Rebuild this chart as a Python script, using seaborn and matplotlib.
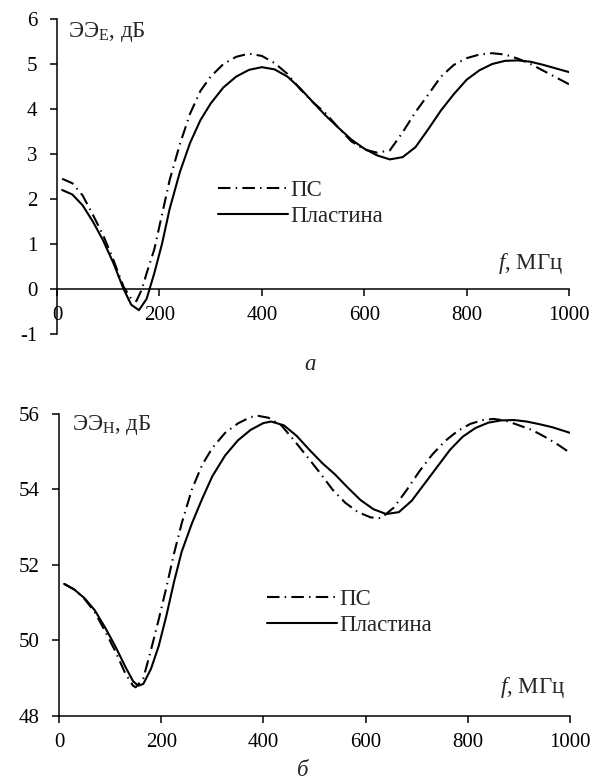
import numpy as np
import pandas as pd
import matplotlib
matplotlib.use("Agg")
import matplotlib.pyplot as plt
import seaborn as sns

# Electric-field shielding efficiency (top panel), dB
freq_e = [10, 30, 50, 70, 90, 110, 130, 145, 160, 175, 190, 205, 220, 240, 260, 280,
          300, 325, 350, 375, 400, 425, 450, 475, 500, 525, 550, 575, 600, 625, 650,
          675, 700, 725, 750, 775, 800, 825, 850, 875, 900, 925, 950, 975, 1000]
se_e_plate = [2.20, 2.10, 1.86, 1.50, 1.08, 0.58, 0.00, -0.35, -0.47, -0.22, 0.35, 1.00,
              1.78, 2.60, 3.25, 3.75, 4.12, 4.48, 4.72, 4.87, 4.93, 4.88, 4.72, 4.46,
              4.15, 3.85, 3.58, 3.32, 3.12, 2.97, 2.88, 2.93, 3.15, 3.55, 3.97, 4.33,
              4.65, 4.86, 5.00, 5.07, 5.08, 5.05, 4.98, 4.90, 4.82]
freq_e_ps = [10, 30, 50, 70, 90, 110, 130, 145, 155, 166, 175, 190, 205, 220, 240, 260,
             280, 300, 325, 350, 375, 400, 425, 450, 475, 500, 525, 550, 575, 600, 625,
             650, 675, 700, 725, 750, 775, 800, 825, 850, 875, 900, 925, 950, 975, 1000]
se_e_ps = [2.45, 2.35, 2.08, 1.65, 1.20, 0.65, 0.05, -0.22, -0.27, 0.00, 0.35, 0.88,
           1.65, 2.42, 3.22, 3.90, 4.40, 4.72, 5.00, 5.16, 5.23, 5.18, 5.02, 4.78, 4.44,
           4.15, 3.90, 3.58, 3.28, 3.10, 3.03, 3.08, 3.48, 3.93, 4.32, 4.72, 4.98, 5.13,
           5.21, 5.24, 5.21, 5.12, 5.00, 4.85, 4.70, 4.55]

# Magnetic-field shielding efficiency (bottom panel), dB
freq_h_plate = [10, 30, 50, 70, 90, 110, 130, 145, 155, 165, 180, 195, 210, 225, 240, 260,
                280, 300, 325, 350, 375, 400, 415, 440, 465, 490, 515, 540, 565, 590, 615,
                640, 665, 690, 715, 740, 765, 790, 815, 840, 865, 890, 915, 940, 965, 1000]
se_h_plate = [51.50, 51.35, 51.12, 50.80, 50.35, 49.85, 49.30, 48.92, 48.80, 48.85, 49.25,
              49.85, 50.65, 51.55, 52.35, 53.10, 53.75, 54.35, 54.90, 55.30, 55.58, 55.76,
              55.80, 55.70, 55.42, 55.05, 54.70, 54.40, 54.05, 53.72, 53.48, 53.35, 53.40,
              53.70, 54.15, 54.60, 55.05, 55.40, 55.63, 55.77, 55.83, 55.84, 55.80, 55.73,
              55.65, 55.50]
freq_h_ps = [10, 30, 50, 70, 90, 110, 130, 145, 150, 165, 180, 195, 210, 225, 240, 260,
             280, 300, 325, 350, 375, 390, 410, 435, 460, 485, 510, 535, 560, 585, 610,
             630, 655, 680, 705, 730, 755, 780, 805, 830, 850, 875, 900, 925, 950, 975, 1000]
se_h_ps = [51.50, 51.35, 51.10, 50.75, 50.25, 49.72, 49.12, 48.80, 48.76, 49.00, 49.75,
           50.55, 51.40, 52.30, 53.10, 54.00, 54.65, 55.10, 55.50, 55.75, 55.92, 55.95,
           55.90, 55.70, 55.30, 54.88, 54.45, 54.00, 53.65, 53.40, 53.26, 53.24, 53.52,
           53.98, 54.48, 54.92, 55.28, 55.55, 55.74, 55.84, 55.87, 55.82, 55.70, 55.58,
           55.40, 55.20, 54.97]

x_ticks = [0, 200, 400, 600, 800, 1000]
label_ps = "ПС"
label_plate = "Пластина"

sns.set_theme(style="ticks")
plt.rcParams["font.family"] = ["Liberation Serif", "DejaVu Serif"]
plt.rcParams["mathtext.fontset"] = "custom"
plt.rcParams["mathtext.rm"] = "Liberation Serif"
plt.rcParams["mathtext.it"] = "Liberation Serif:italic"
plt.rcParams["axes.unicode_minus"] = False

TICK_FS = 15
TEXT_FS = 16.5
dashdot = (0, (6, 2.5, 0.7, 2.5))
LW = 1.5

fig = plt.figure(figsize=(6.02, 7.82), dpi=100)
ax1 = fig.add_axes([0.0947, 0.5729, 0.8505, 0.4028])
ax2 = fig.add_axes([0.098, 0.0844, 0.849, 0.3862])


def draw_panel(ax, f_ps, y_ps, f_pl, y_pl):
    sns.lineplot(x=f_ps, y=y_ps, ax=ax, color="black", lw=LW,
                 linestyle=dashdot, label=label_ps, sort=False)
    sns.lineplot(x=f_pl, y=y_pl, ax=ax, color="black", lw=LW,
                 linestyle="-", label=label_plate, sort=False)
    ax.set_xlim(0, 1000)
    ax.set_xticks(x_ticks)
    for s in ("top", "right"):
        ax.spines[s].set_visible(False)
    for s in ("left", "bottom"):
        ax.spines[s].set_linewidth(1.1)
        ax.spines[s].set_color("black")
    ax.tick_params(axis="both", direction="out", length=5, width=1.1,
                   colors="black", labelsize=TICK_FS)
    ax.tick_params(axis="x", pad=7)
    ax.tick_params(axis="y", pad=9)
    ax.set_xlabel("")
    ax.set_ylabel("")


def legend(ax, anchor):
    ax.legend(loc="center left", bbox_to_anchor=anchor, frameon=False,
              handlelength=3.05, handletextpad=0.1, labelspacing=0.2,
              borderpad=0, borderaxespad=0, fontsize=TEXT_FS)


# Top panel
draw_panel(ax1, freq_e_ps, se_e_ps, freq_e, se_e_plate)
ax1.set_ylim(-1, 6)
ax1.set_yticks(range(-1, 7))
ax1.spines["bottom"].set_position(("data", 0))
ax1.text(0.988, 0.225, "$f$, МГц", transform=ax1.transAxes, ha="right",
         va="center", fontsize=TEXT_FS)
ax1.text(0.021, 0.958, "ЭЭ$_{\\mathrm{Е}}$, дБ", transform=ax1.transAxes,
         ha="left", va="center", fontsize=TEXT_FS)
legend(ax1, (0.314, 0.414))

# Bottom panel
draw_panel(ax2, freq_h_ps, se_h_ps, freq_h_plate, se_h_plate)
ax2.set_ylim(48, 56)
ax2.set_yticks([48, 50, 52, 54, 56])
ax2.text(0.99, 0.096, "$f$, МГц", transform=ax2.transAxes, ha="right",
         va="center", fontsize=TEXT_FS)
ax2.text(0.025, 0.965, "ЭЭ$_{\\mathrm{Н}}$, дБ", transform=ax2.transAxes,
         ha="left", va="center", fontsize=TEXT_FS)
legend(ax2, (0.407, 0.343))

fig.text(0.515, 1 - 365 / 782, "а", ha="center", va="center",
         fontsize=TEXT_FS, style="italic")
fig.text(0.503, 1 - 770 / 782, "б", ha="center", va="center",
         fontsize=TEXT_FS, style="italic")

fig.savefig("out.png", dpi=100, facecolor="white")
